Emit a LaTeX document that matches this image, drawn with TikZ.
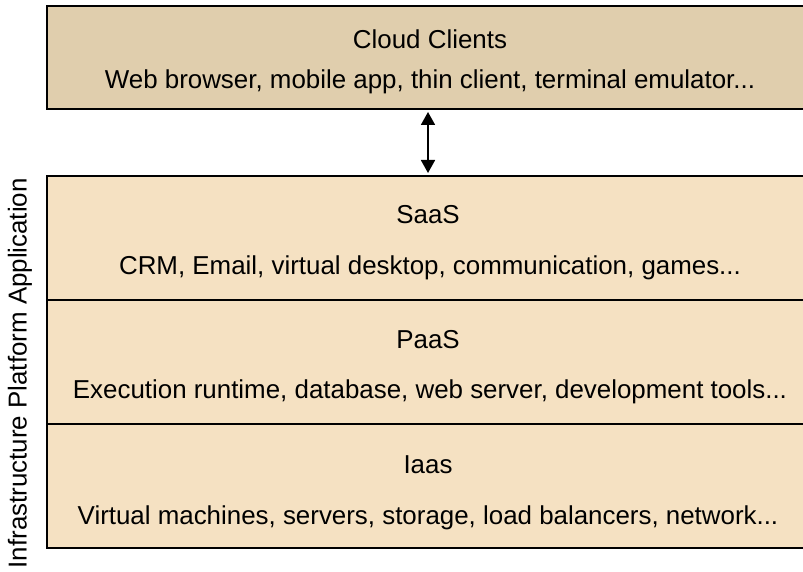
\documentclass[tikz,border=0pt]{standalone}
\usepackage{fontspec}
\setmainfont{Liberation Sans}
\usetikzlibrary{arrows.meta}
\definecolor{topfill}{HTML}{E0CEAD}
\definecolor{layerfill}{HTML}{F5E1C2}
\begin{document}
\begin{tikzpicture}[x=1pt,y=-1pt,
  box/.style={draw=black,line width=2pt},
  txt/.style={font=\fontsize{25.9}{30}\selectfont,inner sep=0pt},
  biarrow/.style={line width=1.8pt,{Triangle[length=13pt,width=14pt]}-{Triangle[length=13pt,width=14pt]}}
]
\useasboundingbox (0,0) rectangle (803,572);
\begin{scope}
\clip (0,0) rectangle (803,572);
\draw[box,fill=topfill] (47,6) rectangle (815,109);
\draw[box,fill=layerfill] (47,176) rectangle (815,548);
\draw[box] (47,300) -- (815,300);
\draw[box] (47,424) -- (815,424);
\end{scope}
\node[txt] (cc) at (430,39) {Cloud Clients};
\node[txt] (ccd) at (430,82) {Web browser, mobile app, thin client, terminal emulator...};
\node[txt] (saas) at (428,215) {SaaS};
\node[txt] (saasd) at (430,268) {CRM, Email, virtual desktop, communication, games...};
\node[txt] (paas) at (428,340) {PaaS};
\node[txt] (paasd) at (430,392) {Execution runtime, database, web server, development tools...};
\node[txt] (iaas) at (428,465) {Iaas};
\node[txt] (iaasd) at (428,518) {Virtual machines, servers, storage, load balancers, network...};
\node[txt,rotate=90,anchor=east] (side) at (20,178) {Infrastructure Platform Application};
\coordinate (a1) at (428,112);
\coordinate (a2) at (428,173);
\draw[biarrow] (a1) -- (a2);
\end{tikzpicture}
\end{document}
